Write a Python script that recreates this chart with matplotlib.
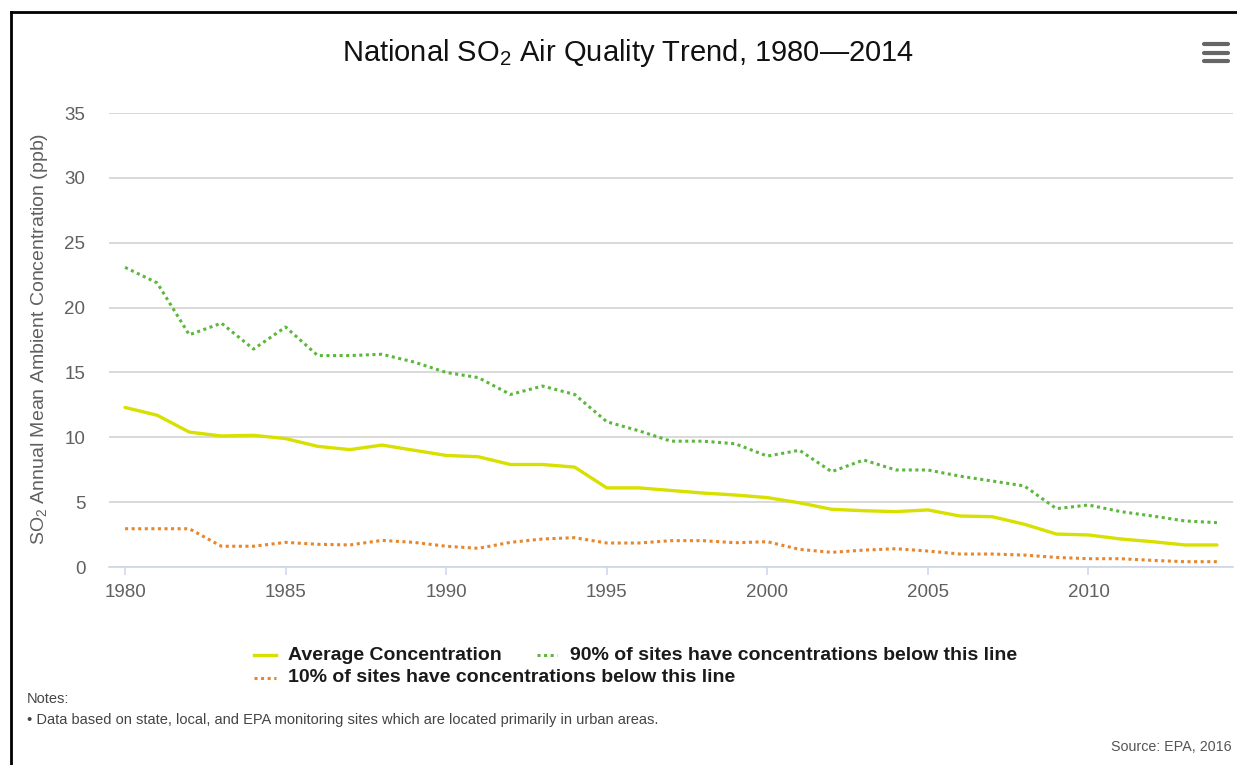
import matplotlib
matplotlib.use("Agg")
import matplotlib.pyplot as plt
from matplotlib.lines import Line2D

plt.rcParams['font.family'] = ['Liberation Sans', 'DejaVu Sans']
plt.rcParams['mathtext.fontset'] = 'custom'
plt.rcParams['mathtext.rm'] = 'Liberation Sans'
plt.rcParams['mathtext.default'] = 'regular'

years = list(range(1980, 2015))
average = [12.3, 11.7, 10.4, 10.1, 10.15, 9.9, 9.3, 9.05, 9.4, 9.0,
           8.6, 8.5, 7.9, 7.9, 7.7, 6.1, 6.1, 5.9, 5.7, 5.55,
           5.35, 4.95, 4.45, 4.34, 4.27, 4.4, 3.93, 3.88, 3.3, 2.54,
           2.47, 2.16, 1.95, 1.7, 1.7]
pct90 = [23.1, 21.9, 17.9, 18.8, 16.8, 18.5, 16.3, 16.3, 16.4, 15.8,
         15.0, 14.6, 13.3, 13.95, 13.3, 11.2, 10.5, 9.7, 9.7, 9.5,
         8.55, 9.0, 7.35, 8.25, 7.48, 7.48, 7.0, 6.63, 6.25, 4.5,
         4.78, 4.27, 3.93, 3.55, 3.42]
pct10 = [2.95, 2.95, 2.95, 1.6, 1.6, 1.9, 1.75, 1.7, 2.05, 1.9,
         1.6, 1.44, 1.9, 2.16, 2.26, 1.85, 1.85, 2.03, 2.03, 1.87,
         1.95, 1.36, 1.13, 1.3, 1.41, 1.23, 1.0, 1.0, 0.92, 0.74,
         0.64, 0.64, 0.51, 0.41, 0.41]
xticks = [1980, 1985, 1990, 1995, 2000, 2005, 2010]
yticks = [0, 5, 10, 15, 20, 25, 30, 35]
series_labels = ["Average Concentration",
                 "90% of sites have concentrations below this line",
                 "10% of sites have concentrations below this line"]

W, H = 1237, 765
def fx(p):
    return p / W
def fy(p):
    return 1 - p / H

C_AVG = '#d8e000'
C_90 = '#5cb83c'
C_10 = '#e8862c'
DOT = (0, (1, 1.15))

fig = plt.figure(figsize=(W / 100, H / 100), dpi=100)
ax = fig.add_axes([fx(109), fy(567), fx(1233) - fx(109), fy(113) - fy(567)])

ax.plot(years, average, color=C_AVG, lw=2.4, solid_capstyle='round', zorder=3)
ax.plot(years, pct90, color=C_90, lw=2.2, linestyle=DOT, dash_capstyle='butt', zorder=3)
ax.plot(years, pct10, color=C_10, lw=2.2, linestyle=DOT, dash_capstyle='butt', zorder=3)

ax.set_xlim(1979.5, 2014.5)
ax.set_ylim(0, 35)
ax.set_yticks(yticks)
ax.set_xticks(xticks)
ax.grid(axis='y', color='#d0d0d0', lw=1.1)
ax.set_axisbelow(True)
for s in ['top', 'right', 'left']:
    ax.spines[s].set_visible(False)
ax.spines['bottom'].set_color('#ccd6eb')
ax.spines['bottom'].set_linewidth(1.2)
ax.tick_params(axis='y', length=0, pad=17, labelsize=13.5, labelcolor='#606060')
ax.tick_params(axis='x', length=6, width=1.1, color='#ccd6eb', pad=6,
               labelsize=13.5, labelcolor='#606060')

fig.text(fx(40), fy(339), r'SO$_2$ Annual Mean Ambient Concentration (ppb)',
         rotation=90, ha='center', va='center', fontsize=14, color='#606060')

fig.text(fx(628), fy(53), r'National SO$_2$ Air Quality Trend, 1980—2014',
         ha='center', va='center', fontsize=21, color='#111111')

# hamburger menu icon
for yy in (44, 53, 61):
    fig.add_artist(Line2D([fx(1204), fx(1228)], [fy(yy), fy(yy)], color='#666666',
                          lw=3, solid_capstyle='round'))

# legend
leg_font = dict(fontsize=14, fontweight='bold', color='#1a1a1a', va='center', ha='left')
fig.add_artist(Line2D([fx(254), fx(276)], [fy(655), fy(655)], color=C_AVG, lw=2.4))
fig.text(fx(288), fy(655), series_labels[0], **leg_font)
fig.add_artist(Line2D([fx(537), fx(557)], [fy(655), fy(655)], color=C_90, lw=2.2,
                      linestyle=DOT, dash_capstyle='butt'))
fig.text(fx(570), fy(655), series_labels[1], **leg_font)
fig.add_artist(Line2D([fx(254), fx(276)], [fy(678), fy(678)], color=C_10, lw=2.2,
                      linestyle=DOT, dash_capstyle='butt'))
fig.text(fx(288), fy(678), series_labels[2], **leg_font)

# notes and credits
fig.text(fx(27), fy(699), 'Notes:', fontsize=10.5, color='#444444', va='center', ha='left')
fig.text(fx(27), fy(720),
         '• Data based on state, local, and EPA monitoring sites which are located primarily in urban areas.',
         fontsize=10.5, color='#444444', va='center', ha='left')
fig.text(fx(1232), fy(747), 'Source: EPA, 2016', fontsize=10.3, color='#555555',
         va='center', ha='right')

# outer frame (left and top)
fig.add_artist(Line2D([fx(10.5), fx(10.5)], [fy(11.5), 0], color='black', lw=2))
fig.add_artist(Line2D([fx(10.5), 1], [fy(11.5), fy(11.5)], color='black', lw=2))

fig.savefig('out.png', dpi=100, facecolor='white')
